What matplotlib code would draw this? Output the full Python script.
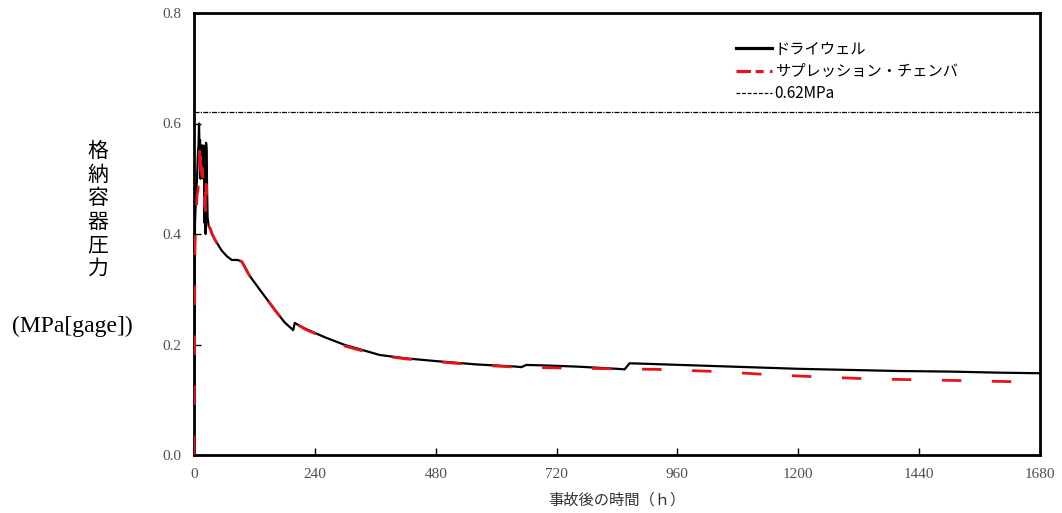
import matplotlib
matplotlib.use("Agg")
import matplotlib.pyplot as plt
from matplotlib.lines import Line2D

# Drywell (black)
t_dw = [0, 1, 2, 4, 6, 8, 9, 10, 11, 12, 13, 14, 15, 16, 17, 18, 19, 20, 21, 22, 23, 24, 25, 26, 27,
        29, 32, 36, 42, 55, 65, 75, 87, 95, 110, 130, 161, 180, 197, 200, 220, 260, 300, 369, 420,
        480, 560, 640, 650, 660, 700, 760, 840, 855, 865, 900, 1000, 1100, 1200, 1300, 1400, 1500,
        1600, 1680]
p_dw = [0.0, 0.25, 0.42, 0.47, 0.50, 0.55, 0.56, 0.60, 0.55, 0.57, 0.50, 0.56, 0.52, 0.56, 0.53,
        0.56, 0.50, 0.55, 0.42, 0.56, 0.40, 0.565, 0.55, 0.48, 0.43,
        0.415, 0.41, 0.40, 0.389, 0.37, 0.36, 0.353, 0.353, 0.35, 0.325, 0.30, 0.262, 0.240, 0.226,
        0.239, 0.229, 0.213, 0.199, 0.181, 0.175,
        0.170, 0.164, 0.160, 0.159, 0.163, 0.162, 0.160, 0.156, 0.155, 0.166, 0.165, 0.162, 0.159,
        0.156, 0.154, 0.152, 0.151, 0.149, 0.148]

# Suppression chamber (red dashed)
t_sc = [0, 1, 2, 4, 6, 8, 10, 11, 12, 13, 14, 16, 18, 20, 21, 22, 23, 24, 25, 27,
        29, 32, 36, 42, 55, 65, 75, 87, 95, 110, 130, 161, 180, 197, 200, 220, 260, 300, 369, 420,
        480, 560, 640, 650, 700, 760, 840, 920, 1040, 1150, 1250, 1350, 1450, 1560, 1680]
p_sc = [0.0, 0.20, 0.38, 0.43, 0.47, 0.48, 0.53, 0.55, 0.50, 0.54, 0.48, 0.52, 0.49, 0.50, 0.45,
        0.50, 0.43, 0.49, 0.47, 0.43,
        0.415, 0.41, 0.40, 0.389, 0.37, 0.36, 0.353, 0.353, 0.35, 0.325, 0.30, 0.262, 0.240, 0.226,
        0.239, 0.228, 0.212, 0.197, 0.180, 0.174,
        0.169, 0.163, 0.159, 0.159, 0.158, 0.157, 0.156, 0.155, 0.151, 0.145, 0.141, 0.1375, 0.136,
        0.134, 0.1316]

limit_value = 0.62
x_ticks = [0, 240, 480, 720, 960, 1200, 1440, 1680]
y_ticks = [0.0, 0.2, 0.4, 0.6, 0.8]
y_ticklabels = ["0.0", "0.2", "0.4", "0.6", "0.8"]

label_dw = "ドライウェル"
label_sc = "サプレッション・チェンバ"
label_lim = "0.62MPa"
xlabel = "事故後の時間（ｈ）"
ylabel_main = "格納容器圧力"
ylabel_unit = "(MPa[gage])"

jp = ["Noto Sans CJK JP", "DejaVu Sans"]
serif = ["Liberation Serif", "DejaVu Serif"]

fig = plt.figure(figsize=(10.62, 5.13), dpi=100)
ax = fig.add_axes([194/1062, 1-455/513, (1040-194)/1062, (455-13)/513])

ax.axhline(limit_value, color="black", lw=0.9, linestyle=(0, (4, 1, 1, 1)), zorder=1)
ax.plot(t_dw, p_dw, color="black", lw=1.6, zorder=2)
ax.plot(t_sc, p_sc, color="#e8121a", lw=2.0, dashes=(7, 11), zorder=3)

ax.set_xlim(0, 1680)
ax.set_ylim(0, 0.8)
ax.set_xticks(x_ticks)
ax.set_yticks(y_ticks)
ax.set_yticklabels(y_ticklabels)
ax.tick_params(direction="in", length=5, width=1, colors="black", labelcolor="#505050",
               labelsize=11)
ax.tick_params(axis="y", pad=9)
ax.tick_params(axis="x", pad=9)
for lbl in ax.get_xticklabels() + ax.get_yticklabels():
    lbl.set_fontfamily(serif)
for s in ax.spines.values():
    s.set_linewidth(2)

ax.set_xlabel(xlabel, family=jp, fontsize=11, color="#333333", labelpad=8)

fig.text(98/1062, 1-210/513, "\n".join(ylabel_main), family=jp, fontsize=15,
         ha="center", va="center", linespacing=1.1)
fig.text(72/1062, 1-326/513, ylabel_unit, family=serif,
         fontsize=17, ha="center", va="center")

handles = [Line2D([], [], color="black", lw=2.3),
           Line2D([], [], color="#e8121a", lw=2.3, dashes=(4.5, 1.5, 2.5, 2)),
           Line2D([], [], color="black", lw=0.9, linestyle=(0, (3, 1.5)))]
leg = ax.legend(handles, [label_dw, label_sc, label_lim], loc="upper left",
                bbox_to_anchor=(728/1062, 1-33/513), bbox_transform=fig.transFigure,
                frameon=False, prop={"family": jp, "size": 11}, handlelength=2.4,
                handletextpad=0.15, labelspacing=0.35, borderpad=0)

fig.savefig("out.png", dpi=100)
